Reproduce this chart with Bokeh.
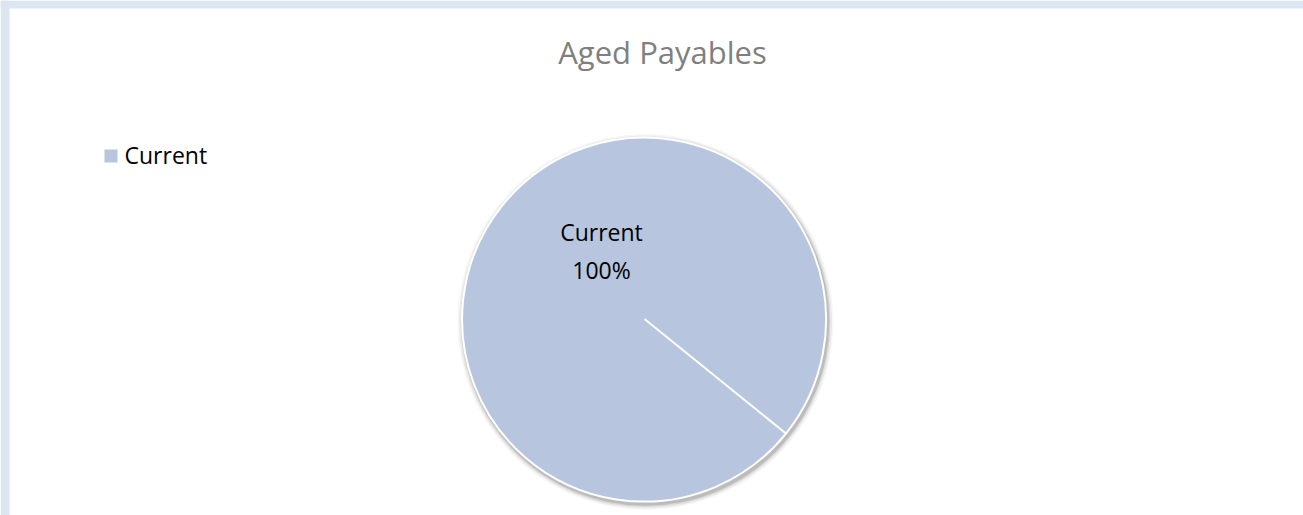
import numpy as np
from bokeh.plotting import figure
from bokeh.models import Range1d, ColumnDataSource
from bokeh.core.properties import value
from bokeh.embed import file_html
from bokeh.resources import INLINE

# ---- data ----
categories = ["Current"]
amounts = [100.0]
colors = ["#b7c5de"]
title_text = "Aged Payables"

W, H = 1303, 515
p = figure(width=W, height=H, output_backend="svg", toolbar_location=None,
           x_range=Range1d(0, W), y_range=Range1d(0, H), min_border=0)
p.axis.visible = False
p.grid.visible = False
p.outline_line_color = None
p.background_fill_color = "white"
p.border_fill_color = "white"

# outer light-blue frame strips
p.quad(left=[0, 0], right=[W, 9], top=[H, H], bottom=[H - 8, 0],
       fill_color="#dce6f0", line_color=None)

cx, cy, r = 644, H - 318.5, 182
start_deg = -39.0

total = sum(amounts)
fracs = [a / total for a in amounts]
cum = np.cumsum([0] + fracs)
starts = [np.deg2rad(start_deg) + 2 * np.pi * c for c in cum[:-1]]
ends = [np.deg2rad(start_deg) + 2 * np.pi * c - 1e-4 for c in cum[1:]]

# shadow
for dr, a in [(6, 0.03), (4.5, 0.05), (3, 0.08), (1.8, 0.12)]:
    p.circle(x=[cx + 1], y=[cy - 3], radius=r + dr, fill_color="#000000",
             fill_alpha=a, line_color=None)

src = ColumnDataSource(dict(start=starts, end=ends, color=colors, cat=categories))
p.wedge(x=cx, y=cy, radius=r, start_angle="start", end_angle="end",
        fill_color="color", line_color="white", line_width=2, source=src)

# data label
p.text(x=[601], y=[H - 231], text=[categories[0]], text_font=value("Open Sans"),
       text_font_size="23px", text_color="#000000", text_align="center", text_baseline="alphabetic")
p.text(x=[601], y=[H - 269], text=[f"{int(round(fracs[0]*100))}%"], text_font=value("Open Sans"),
       text_font_size="23px", text_color="#000000", text_align="center", text_baseline="alphabetic")

# title
p.text(x=[662], y=[H - 51], text=[title_text], text_font=value("Open Sans"),
       text_font_size="31px", text_color="#7f7f7f", text_align="center", text_baseline="alphabetic")

# legend
p.scatter(x=[110.5], y=[H - 155.5], marker="square", size=13, fill_color=colors[0], line_color=None)
p.text(x=[124], y=[H - 154], text=categories, text_font=value("Open Sans"),
       text_font_size="23px", text_color="#000000", text_align="left", text_baseline="alphabetic")

open("out.html", "w").write(file_html(p, INLINE))
